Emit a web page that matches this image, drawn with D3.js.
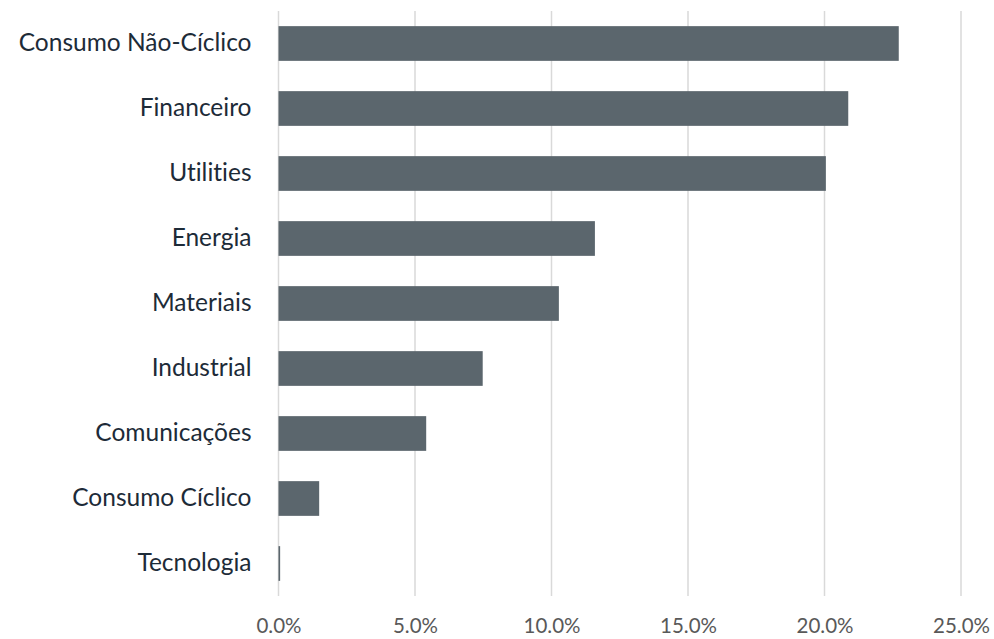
<!DOCTYPE html>
<html>
<head>
<meta charset="utf-8">
<script src="https://cdn.jsdelivr.net/npm/d3@7"></script>
<style>
  body { margin: 0; background: #fff; }
  svg text { font-family: Lato, "Open Sans", sans-serif; font-variant-ligatures: none; }
</style>
</head>
<body>
<svg id="chart"></svg>
<script>
// sector weights (fraction)
var sectors = ["Consumo Não-Cíclico", "Financeiro", "Utilities", "Energia", "Materiais",
  "Industrial", "Comunicações", "Consumo Cíclico", "Tecnologia"];
var weights = [0.2272, 0.2087, 0.2005, 0.1159, 0.1027, 0.0748, 0.0541, 0.0149, 0.0006];
var xTicks = [0, 0.05, 0.10, 0.15, 0.20, 0.25];

var width = 994, height = 639;
var svg = d3.select("#chart").attr("width", width).attr("height", height);

var x = d3.scaleLinear().domain([0, 0.25]).range([278.5, 961]);
var y = d3.scaleBand().domain(sectors).range([11, 596])
  .paddingInner(0.466).paddingOuter(0.233);

// gridlines
svg.append("g").selectAll("line")
  .data(xTicks)
  .enter().append("line")
  .attr("x1", function(d) { return x(d); })
  .attr("x2", function(d) { return x(d); })
  .attr("y1", 11)
  .attr("y2", 596)
  .attr("stroke", "#d9d9d9")
  .attr("stroke-width", 1.5);

// bars
svg.append("g").selectAll("rect")
  .data(sectors)
  .enter().append("rect")
  .attr("x", x(0))
  .attr("y", function(d) { return y(d); })
  .attr("width", function(d, i) { return x(weights[i]) - x(0); })
  .attr("height", y.bandwidth())
  .attr("fill", "#5b666d");

// category labels
var yAxis = svg.append("g")
  .attr("transform", "translate(" + x(0) + ",0)")
  .call(d3.axisLeft(y).tickSize(0).tickPadding(27));
yAxis.select(".domain").remove();
yAxis.selectAll("text")
  .attr("fill", "#1d2b38")
  .style("font-size", "24.5px");

// value axis labels
var xAxis = svg.append("g")
  .attr("transform", "translate(0,596)")
  .call(d3.axisBottom(x).tickValues(xTicks).tickFormat(d3.format(".1%")).tickSize(0).tickPadding(30));
xAxis.select(".domain").remove();
xAxis.selectAll("text")
  .attr("fill", "#595959")
  .attr("dy", "0.35em")
  .style("font-size", "20.5px");
</script>
</body>
</html>
